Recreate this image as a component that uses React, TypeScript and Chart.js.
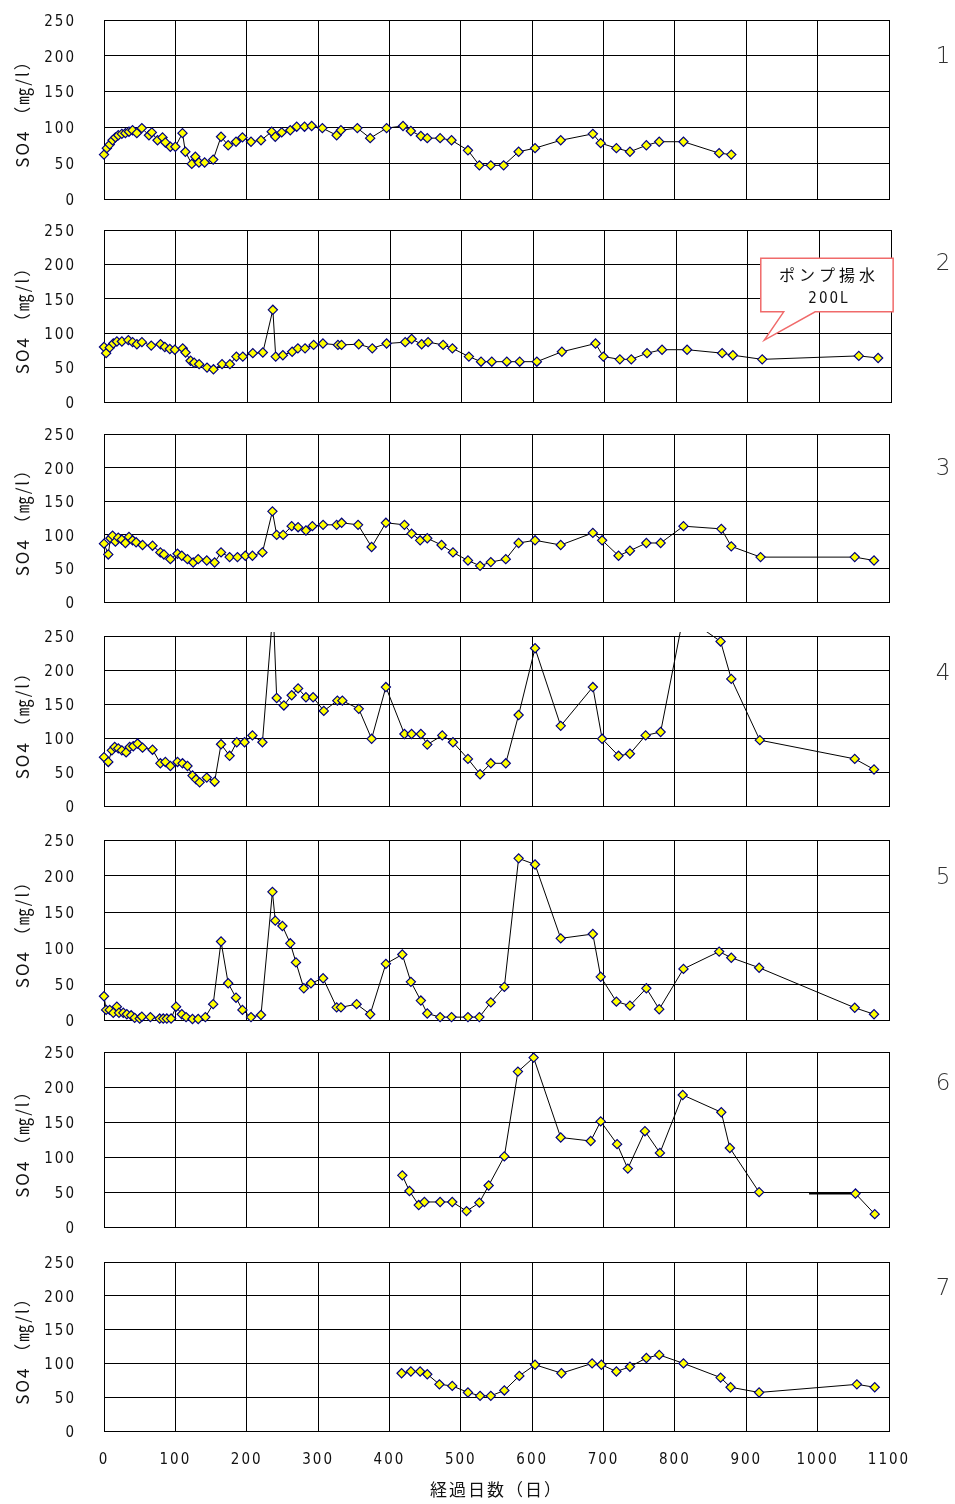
import React, { useEffect, useRef } from 'react';
import { Chart, registerables } from 'chart.js';

Chart.register(...registerables);

// ---------- data ----------
const xTickLabels = ['0', '100', '200', '300', '400', '500', '600', '700', '800', '900', '1000', '1100'];
const yTickLabels = ['0', '50', '100', '150', '200', '250'];
const xTitle = '経過日数（日）';
const yTitle = 'SO4 （㎎/l）';
const panelLabels = ['1', '2', '3', '4', '5', '6', '7'];

const days1 = [0, 4, 8, 12, 16, 20, 25, 30, 35, 40, 46, 53, 63, 67, 75, 82, 86, 93, 100, 110, 114, 123, 128, 133, 141, 153, 164, 174, 185, 194, 206, 220, 235, 240, 249, 261, 270, 281, 291, 306, 326, 332, 355, 373, 396, 419, 430, 444, 453, 471, 487, 510, 526, 542, 560, 581, 604, 640, 685, 696, 718, 737, 760, 778, 812, 862, 879];
const so4_1 = [62, 71, 76, 82, 86, 89, 91, 92, 94, 96, 92, 99, 89, 93, 82, 86, 79, 73, 73, 92, 66, 49, 59, 51, 51, 55, 87, 75, 80, 86, 80, 82, 94, 87, 93, 96, 101, 101, 102, 99, 89, 96, 99, 85, 99, 102, 95, 88, 85, 85, 82, 68, 47, 47, 47, 66, 71, 82, 91, 78, 71, 66, 75, 80, 80, 64, 62];

const days2 = [0, 3, 8, 13, 18, 25, 34, 40, 46, 53, 66, 79, 85, 92, 99, 110, 114, 121, 126, 133, 144, 153, 165, 176, 185, 194, 208, 222, 236, 240, 250, 263, 271, 281, 293, 306, 327, 332, 356, 375, 395, 421, 430, 444, 453, 474, 487, 510, 527, 542, 563, 581, 605, 640, 687, 698, 721, 737, 759, 780, 815, 864, 879, 920, 1055, 1082];
const so4_2 = [80, 71, 79, 85, 88, 88, 90, 87, 84, 87, 82, 84, 80, 77, 76, 78, 72, 60, 57, 55, 50, 47.5, 55, 55, 66, 66, 71, 72, 134, 66, 68, 73, 78, 78, 83, 85, 83, 83, 84, 78, 85, 87, 91.5, 84, 87, 83, 78, 66, 58.6, 58.6, 58.6, 58.6, 58.6, 73, 85, 66, 62, 62, 71, 76, 76, 71, 68, 62, 67, 64];

const days3 = [0, 6, 9, 12, 16, 20, 25, 30, 35, 40, 45, 54, 68, 79, 84, 93, 103, 109, 117, 125, 132, 144, 155, 164, 176, 187, 198, 208, 222, 236, 242, 251, 263, 272, 283, 292, 307, 326, 333, 356, 375, 395, 421, 431, 443, 453, 473, 489, 510, 527, 542, 563, 581, 604, 640, 685, 698, 721, 737, 760, 780, 812, 865, 879, 920, 1052, 1079];
const so4_3 = [87, 71, 95, 99, 90, 96, 93, 88, 97, 92, 89, 85, 84, 74, 71, 64, 72, 69, 64, 59, 64, 62, 59, 74, 67, 67, 69, 69, 74, 135, 100, 100, 113, 111.5, 106.5, 113, 115, 115, 118, 115, 82, 118, 115, 102, 92, 95, 85, 74, 62, 54, 59.6, 64, 88, 92, 85, 103, 92, 69, 76.5, 88, 88, 113, 109, 83, 67, 67, 62];

const days4 = [0, 6, 11, 15, 20, 25, 31, 36, 41, 47, 54, 68, 79, 86, 93, 103, 110, 117, 124, 129, 134, 144, 155, 164, 176, 186, 197, 208, 222, 237, 242, 252, 263, 272, 283, 293, 308, 327, 334, 357, 375, 395, 421, 431, 444, 453, 474, 489, 510, 527, 542, 563, 581, 604, 640, 685, 698, 721, 737, 759, 780, 812, 864, 879, 919, 1052, 1079];
const so4_4 = [72, 65, 82, 87, 85, 82, 79, 87, 88, 92, 86, 83, 63, 65, 59, 65, 63, 59, 45, 39.5, 35, 42, 36, 91, 74, 94, 94, 104, 94, 290, 159, 148, 163, 173, 160, 160, 140, 155, 155, 143, 99, 175, 106, 106, 106, 90.5, 104, 94, 69.5, 47, 63, 63, 134, 232, 118, 175, 99, 74, 77, 104, 109, 280, 242, 187, 97, 69.5, 54];

const days5 = [0, 3, 8, 13, 18, 21, 27, 32, 38, 43, 50, 53, 65, 78, 83, 88, 94, 101, 109, 115, 124, 132, 142, 153, 164, 174, 185, 194, 206, 220, 236, 240, 250, 261, 269, 280, 290, 307, 326, 332, 354, 373, 395, 418, 430, 444, 453, 471, 487, 510, 526, 542, 561, 581, 604, 640, 685, 696, 718, 737, 760, 778, 812, 862, 879, 918, 1052, 1079];
const so4_5 = [33, 14, 14, 10, 18.5, 10, 10, 8, 6.5, 3, 2, 4.6, 4, 2, 2, 2, 2, 18.5, 8, 4, 1.4, 1.4, 4, 22, 109, 51, 31, 14, 4, 7, 178, 138, 130.5, 106.5, 80, 44, 51, 58, 17.6, 17.6, 22, 8, 78, 91, 53, 27, 9, 4, 4, 4, 4, 24.5, 46, 224.5, 216, 113.4, 119.4, 60, 25.5, 20, 44, 15, 71, 95, 86.5, 72.6, 17, 8];

const days6 = [418, 428, 441, 449, 471, 488, 508, 526, 539, 561, 580, 602, 640, 682, 696, 719, 734, 758, 779, 811, 865, 877, 918, 950, 988, 1053, 1080];
const so4_6 = [74, 51.6, 31.6, 36, 36, 36, 23, 35, 59.5, 101, 222, 242, 128, 123, 151, 118.5, 83.6, 137, 106, 188.7, 164, 113, 50, null, 48, 48, 18.6];
const unmarkedDays6 = [988];
const thickFromDay6 = 988;

const days7 = [417, 430, 443, 453, 470, 488, 510, 527, 542, 561, 582, 604, 641, 684, 697, 718, 737, 760, 778, 812, 864, 878, 918, 1055, 1080];
const so4_7 = [85.5, 88, 88, 84, 69, 66.7, 57, 52, 52, 60, 81.5, 98, 85.5, 100, 98, 88, 95, 108, 112.6, 100, 79, 64.7, 57, 69, 64.7];

// callout (panel 2), in data units
const calloutLines = ['ポンプ揚水', '200L'];
const calloutBox = { x0: 918, x1: 1103, y0: 209, y1: 131 };
const calloutTail = { base0: 950, base1: 994, tipX: 923, tipY: 90 };

// ---------- layout ----------
const FONT = "'Noto Sans CJK JP', 'DejaVu Sans', sans-serif";
const NUM_FONT = "'DejaVu Sans Condensed', 'DejaVu Sans', sans-serif";
const W = 955;
const PLOT_LEFT = 104;
const TOP_PAD = 14;
const panelTops = [20, 230, 434, 636, 840, 1052, 1262];
const panelBottoms = [199, 402, 606, 811, 1020, 1231, 1431];
const panelRights = [889, 891, 889, 889, 889, 889, 889];
const panelBelow = [12, 12, 2, 1, 12, 2, 73];
const labelCenters = [55, 262, 467, 672, 876, 1082, 1287];

type PanelDef = {
  days: number[];
  values: (number | null)[];
  unmarked?: number[];
  thickFrom?: number;
  callout?: boolean;
};

const panels: PanelDef[] = [
  { days: days1, values: so4_1 },
  { days: days2, values: so4_2, callout: true },
  { days: days3, values: so4_3 },
  { days: days4, values: so4_4 },
  { days: days5, values: so4_5 },
  { days: days6, values: so4_6, unmarked: unmarkedDays6, thickFrom: thickFromDay6 },
  { days: days7, values: so4_7 },
];

const spacingPlugin = {
  id: 'spacing',
  beforeDraw(chart: any) {
    chart.ctx.letterSpacing = '2px';
  },
  afterDraw(chart: any) {
    chart.ctx.letterSpacing = '0px';
  },
};

const calloutPlugin = {
  id: 'callout',
  afterDatasetsDraw(chart: any) {
    const { ctx, scales } = chart;
    const x = scales.x;
    const y = scales.y;
    const L = x.getPixelForValue(calloutBox.x0);
    const R = x.getPixelForValue(calloutBox.x1);
    const T = y.getPixelForValue(calloutBox.y0);
    const B = y.getPixelForValue(calloutBox.y1);
    const b0 = x.getPixelForValue(calloutTail.base0);
    const b1 = x.getPixelForValue(calloutTail.base1);
    const tx = x.getPixelForValue(calloutTail.tipX);
    const ty = y.getPixelForValue(calloutTail.tipY);
    ctx.save();
    ctx.beginPath();
    ctx.moveTo(L, T);
    ctx.lineTo(R, T);
    ctx.lineTo(R, B);
    ctx.lineTo(b1, B);
    ctx.lineTo(tx, ty);
    ctx.lineTo(b0, B);
    ctx.lineTo(L, B);
    ctx.closePath();
    ctx.fillStyle = '#ffffff';
    ctx.fill();
    ctx.strokeStyle = '#f06a6a';
    ctx.lineWidth = 1.5;
    ctx.stroke();
    ctx.fillStyle = '#111';
    ctx.font = `16px ${FONT}`;
    ctx.textAlign = 'center';
    ctx.textBaseline = 'middle';
    ctx.letterSpacing = '4px';
    const cx = (L + R) / 2 + 2;
    ctx.fillText(calloutLines[0], cx, T + 17);
    ctx.font = `15px ${NUM_FONT}`;
    ctx.letterSpacing = '2px';
    ctx.fillText(calloutLines[1], cx, T + 41);
    ctx.restore();
  },
};

function PanelChart({ index }: { index: number }) {
  const ref = useRef<HTMLCanvasElement | null>(null);
  const p = panels[index];
  const top = panelTops[index];
  const bottom = panelBottoms[index];
  const below = panelBelow[index];
  const isLast = index === panels.length - 1;
  const canvasTop = top - TOP_PAD;
  const h = bottom - top + TOP_PAD + below;

  useEffect(() => {
    const canvas = ref.current;
    if (!canvas) return;
    const tickFont = { family: NUM_FONT, size: 15 };
    const points = p.days.map((d, i) => ({ x: d, y: p.values[i] }));
    const unmarked = p.unmarked || [];
    const chart = new Chart(canvas, {
      type: 'line',
      data: {
        datasets: [
          {
            data: points,
            borderColor: '#000',
            borderWidth: 1,
            tension: 0,
            spanGaps: false,
            pointStyle: 'rectRot',
            pointRadius: (c: any) => (c.raw && unmarked.includes(c.raw.x) ? 0 : 4.6),
            pointBackgroundColor: '#ffff00',
            pointBorderColor: '#000080',
            pointBorderWidth: 1.2,
            clip: { left: 6, top: 4, right: 6, bottom: 6 },
            segment: {
              borderWidth: (c: any) =>
                p.thickFrom !== undefined && c.p0.parsed.x === p.thickFrom ? 2 : 1,
            },
          } as any,
        ],
      },
      options: {
        animation: false,
        responsive: false,
        maintainAspectRatio: false,
        devicePixelRatio: 1,
        events: [],
        layout: {
          padding: { left: 0, right: W - panelRights[index], top: TOP_PAD, bottom: isLast ? 0 : below },
        },
        plugins: { legend: { display: false }, tooltip: { enabled: false }, title: { display: false } },
        scales: {
          x: {
            type: 'linear',
            min: 0,
            max: 1100,
            grid: { color: '#000', lineWidth: 1, drawTicks: false },
            border: { color: '#000', width: 1 },
            ticks: {
              display: isLast,
              stepSize: 100,
              padding: 20,
              autoSkip: false,
              maxRotation: 0,
              color: '#111',
              font: tickFont,
              callback: (_v: any, i: number) => xTickLabels[i],
            },
            title: {
              display: isLast,
              text: xTitle,
              color: '#111',
              font: { family: FONT, size: 17 },
              padding: { top: 0, bottom: 4 },
            },
            afterFit: (s: any) => {
              s.height = isLast ? below : 0;
              s.paddingLeft = 0;
              s.paddingRight = 0;
              s.paddingTop = 0;
              s.paddingBottom = 0;
            },
          },
          y: {
            type: 'linear',
            min: 0,
            max: 250,
            grid: { color: '#000', lineWidth: 1, drawTicks: false },
            border: { color: '#000', width: 1 },
            ticks: {
              stepSize: 50,
              padding: 28,
              labelOffset: 2,
              color: '#111',
              font: tickFont,
              callback: (_v: any, i: number) => yTickLabels[i],
            },
            title: {
              display: true,
              text: yTitle,
              color: '#111',
              font: { family: FONT, size: 17 },
              padding: { top: 12, bottom: 0 },
            },
            afterFit: (s: any) => {
              s.width = PLOT_LEFT;
              s.paddingLeft = 0;
              s.paddingRight = 0;
              s.paddingTop = 0;
              s.paddingBottom = 0;
            },
          },
        },
      } as any,
      plugins: p.callout ? [spacingPlugin, calloutPlugin] : [spacingPlugin],
    });
    return () => chart.destroy();
  }, [index]);

  return (
    <canvas
      ref={ref}
      width={W}
      height={h}
      style={{ position: 'absolute', left: 0, top: canvasTop, width: W, height: h, display: 'block' }}
    />
  );
}

export default function App() {
  return (
    <div style={{ position: 'absolute', left: 0, top: 0, width: W, height: 1504, background: '#fff', overflow: 'hidden' }}>
      {panels.map((_, i) => (
        <PanelChart key={i} index={i} />
      ))}
      {panelLabels.map((t, i) => (
        <div
          key={'l' + i}
          style={{
            position: 'absolute',
            left: 928,
            top: labelCenters[i] - 15,
            width: 30,
            height: 30,
            lineHeight: '30px',
            textAlign: 'center',
            fontFamily: "'DejaVu Sans', sans-serif",
            fontSize: 23,
            color: '#333',
            fontWeight: 300,
          }}
        >
          {t}
        </div>
      ))}
    </div>
  );
}
